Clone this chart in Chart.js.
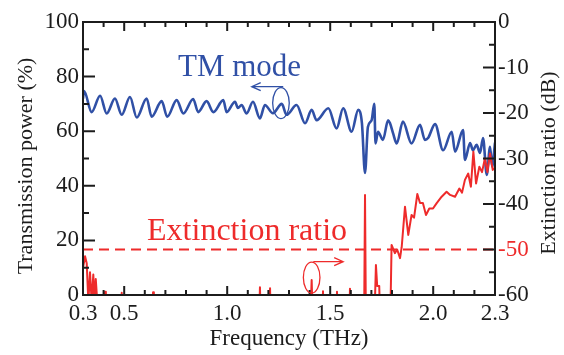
<!DOCTYPE html>
<html>
<head>
<meta charset="utf-8">
<script src="https://cdn.jsdelivr.net/npm/chart.js@4.4.0/dist/chart.umd.min.js"></script>
<style>
html, body { margin: 0; padding: 0; background: #fff; }
#wrap { width: 564px; height: 355px; }
</style>
</head>
<body>
<div id="wrap"><canvas id="chart"></canvas></div>
<script>
// TM mode transmission (%)
const tmFreq = [0.300, 0.305, 0.342, 0.383, 0.415, 0.455, 0.488, 0.528, 0.561, 0.609, 0.633, 0.682, 0.709, 0.755, 0.787,
    0.835, 0.859, 0.900, 0.933, 0.981, 0.997, 1.038, 1.052, 1.070, 1.094, 1.125, 1.159, 1.183, 1.222, 1.265, 1.288,
    1.337, 1.378, 1.410, 1.434, 1.491, 1.531, 1.563, 1.604, 1.636, 1.654, 1.669, 1.683, 1.701, 1.714, 1.720, 1.732,
    1.756, 1.781, 1.790, 1.805, 1.823, 1.853, 1.895, 1.936, 1.960, 1.975, 2.009, 2.048, 2.090, 2.106, 2.145, 2.154,
    2.179, 2.193, 2.211, 2.227, 2.242, 2.260, 2.276, 2.286, 2.300];
const tmPower = [72, 74.7, 67, 73, 66.5, 72, 66, 72.5, 65, 72, 65.3, 71, 65.3, 71.4, 66.5,
    71.8, 67, 71, 67, 71.4, 67, 70.8, 68.5, 69.6, 66.5, 70.8, 64.7, 69.6, 66.6, 70, 66,
    69.6, 62.9, 67.8, 64, 68.4, 61, 68.4, 59.8, 67.8, 63, 44.7, 61.5, 64, 70, 55.5, 59.8,
    56.8, 64, 63, 59.3, 55.5, 63.5, 55.5, 62.3, 56.8, 57.5, 62.6, 53, 59.8, 52.5, 60.4, 49.5,
    55.7, 53, 55, 52, 57.5, 44, 54.3, 47, 55.7];

// Extinction ratio (dB); values under -60 fall below the axis
const erFreq = [0.300, 0.310, 0.318, 0.326, 0.334, 0.342, 0.350, 0.356, 0.362, 0.370, 0.380,
    0.403, 0.407, 0.411, 0.484, 0.488, 0.492, 0.636, 0.640, 0.644,
    1.152, 1.159, 1.166, 1.202, 1.208, 1.214, 1.400, 1.410, 1.418, 1.460, 1.465, 1.470,
    1.528, 1.533, 1.538, 1.590, 1.596, 1.602, 1.664, 1.669, 1.674, 1.712, 1.722, 1.728, 1.738, 1.745,
    1.790, 1.798, 1.814, 1.825, 1.839, 1.847, 1.863, 1.879, 1.895, 1.907, 1.923, 1.936, 1.950, 1.965,
    1.981, 1.999, 2.017, 2.041, 2.065, 2.082, 2.106, 2.127, 2.140, 2.154, 2.170, 2.183, 2.195, 2.208,
    2.224, 2.237, 2.251, 2.263, 2.276, 2.289, 2.300];
const erDb = [-54, -51.5, -53, -61.5, -55, -61.5, -55.5, -61.5, -56.5, -62, -70,
    -70, -59.3, -70, -70, -59.5, -70, -70, -59.4, -70,
    -70, -58.3, -70, -70, -58.5, -70, -70, -56.7, -70, -70, -59.2, -70,
    -70, -59.3, -70, -70, -58.6, -70, -70, -38, -70, -70, -53.4, -58, -58, -70,
    -70, -49, -50.8, -50, -51.9, -49.5, -40.6, -46.8, -42.4, -43, -37.8, -39.8, -39.8, -42.4,
    -41, -41, -39.8, -38.4, -37.3, -38, -38.4, -36.6, -37.5, -34.7, -33.3, -36.2, -28.5, -35.5,
    -31.8, -33, -30, -33, -28.9, -32.5, -32];

const thresholdDb = -50;
const xTickValues = [0.3, 0.5, 1.0, 1.5, 2.0, 2.3];

const blue = "#3050a6";
const red = "#ee2b2b";
const ink = "#1c1c1c";
const serif = "'Liberation Serif', 'Times New Roman', serif";

const toPoints = (xs, ys) => xs.map((f, i) => ({ x: f, y: ys[i] }));

const frameTicks = {
    id: "frameTicks",
    afterDatasetsDraw(chart) {
        const { ctx, chartArea: a, scales } = chart;
        const { x, y, y1 } = scales;
        ctx.save();
        ctx.strokeStyle = ink;
        ctx.lineWidth = 2;
        ctx.strokeRect(a.left, a.top, a.right - a.left, a.bottom - a.top);
        ctx.beginPath();
        for (let i = 3; i <= 23; i++) {
            const px = x.getPixelForValue(i / 10);
            const len = i % 5 === 0 ? 9 : 5;
            ctx.moveTo(px, a.bottom);
            ctx.lineTo(px, a.bottom - len);
            ctx.moveTo(px, a.top);
            ctx.lineTo(px, a.top + len);
        }
        for (let v = 0; v <= 100; v += 10) {
            const py = y.getPixelForValue(v);
            ctx.moveTo(a.left, py);
            ctx.lineTo(a.left + (v % 20 === 0 ? 12 : 6), py);
        }
        for (let v = -60; v <= 0; v += 5) {
            const py = y1.getPixelForValue(v);
            ctx.moveTo(a.right, py);
            ctx.lineTo(a.right - (v % 10 === 0 ? 12 : 6), py);
        }
        ctx.stroke();
        ctx.restore();
    },
};

const notes = {
    id: "notes",
    afterDraw(chart) {
        const { ctx, scales } = chart;
        const { x, y } = scales;
        ctx.save();

        // labels inside the plot
        ctx.textBaseline = "alphabetic";
        ctx.textAlign = "left";
        ctx.font = `31px ${serif}`;
        ctx.fillStyle = blue;
        ctx.fillText("TM mode", x.getPixelForValue(0.761), y.getPixelForValue(80.2));
        ctx.fillStyle = red;
        ctx.font = `32px ${serif}`;
        ctx.fillText("Extinction ratio", x.getPixelForValue(0.611), y.getPixelForValue(20.1));

        // circle + arrow markers
        const marker = (cx, cy, ax0, ax1, ay, color) => {
            const px = x.getPixelForValue(cx);
            const py = y.getPixelForValue(cy);
            const x0 = x.getPixelForValue(ax0);
            const x1 = x.getPixelForValue(ax1);
            const yy = y.getPixelForValue(ay);
            ctx.strokeStyle = color;
            ctx.lineWidth = 1.3;
            ctx.beginPath();
            ctx.ellipse(px, py, 8.3, 15.5, 0, 0, Math.PI * 2);
            ctx.stroke();
            ctx.beginPath();
            ctx.moveTo(x0, yy);
            ctx.lineTo(x1, yy);
            const dir = x1 > x0 ? -1 : 1;
            ctx.moveTo(x1 + dir * 9, yy - 4);
            ctx.lineTo(x1, yy);
            ctx.lineTo(x1 + dir * 9, yy + 4);
            ctx.stroke();
        };
        marker(1.261, 70.3, 1.272, 1.119, 76.3, blue);
        marker(1.410, 6.4, 1.418, 1.563, 12.2, red);

        // axis titles, both reading bottom to top
        ctx.fillStyle = ink;
        ctx.font = `22px ${serif}`;
        ctx.textAlign = "center";
        ctx.textBaseline = "middle";
        const vTitle = (text, cx, cy) => {
            ctx.save();
            ctx.translate(cx, cy);
            ctx.rotate(-Math.PI / 2);
            ctx.fillText(text, 0, 0);
            ctx.restore();
        };
        vTitle("Transmission power (%)", 26, 166);
        vTitle("Extinction ratio (dB)", 549, 163);
        ctx.restore();
    },
};

new Chart(document.getElementById("chart"), {
    type: "line",
    data: {
        datasets: [
            {
                label: "Extinction ratio",
                data: toPoints(erFreq, erDb),
                yAxisID: "y1",
                borderColor: red,
                borderWidth: 2,
                borderJoinStyle: "round",
                pointRadius: 0,
                tension: 0,
            },
            {
                label: "threshold",
                data: [{ x: 0.3, y: thresholdDb }, { x: 2.3, y: thresholdDb }],
                yAxisID: "y1",
                borderColor: red,
                borderWidth: 2,
                borderDash: [10, 6],
                pointRadius: 0,
            },
            {
                label: "TM mode",
                data: toPoints(tmFreq, tmPower),
                yAxisID: "y",
                borderColor: blue,
                borderWidth: 2.6,
                borderJoinStyle: "round",
                borderCapStyle: "round",
                cubicInterpolationMode: "monotone",
                pointRadius: 0,
            },
        ],
    },
    options: {
        responsive: true,
        maintainAspectRatio: false,
        animation: false,
        layout: { padding: { top: 22, left: 0, right: 0, bottom: 0 } },
        plugins: { legend: { display: false }, tooltip: { enabled: false } },
        scales: {
            x: {
                type: "linear",
                min: 0.3,
                max: 2.3,
                afterBuildTicks: (s) => { s.ticks = xTickValues.map((v) => ({ value: v })); },
                afterFit: (s) => { s.height = 60; },
                grid: { display: false, drawTicks: false },
                border: { display: false },
                ticks: {
                    autoSkip: false,
                    maxRotation: 0,
                    padding: 5,
                    color: ink,
                    font: { family: serif, size: 23 },
                    callback: (v) => Number(v).toFixed(1),
                },
                title: {
                    display: true,
                    text: "Frequency (THz)",
                    color: ink,
                    font: { family: serif, size: 23 },
                    padding: { top: 0, bottom: 2 },
                },
            },
            y: {
                position: "left",
                min: 0,
                max: 100,
                afterFit: (s) => { s.width = 83; },
                grid: { display: false, drawTicks: false },
                border: { display: false },
                ticks: {
                    stepSize: 20,
                    padding: 4,
                    color: ink,
                    font: { family: serif, size: 23 },
                },
            },
            y1: {
                position: "right",
                min: -60,
                max: 0,
                afterFit: (s) => { s.width = 69; },
                grid: { display: false, drawTicks: false },
                border: { display: false },
                ticks: {
                    stepSize: 10,
                    padding: 3,
                    color: (c) => (c.tick && c.tick.value === thresholdDb ? red : ink),
                    font: { family: serif, size: 23 },
                },
            },
        },
    },
    plugins: [frameTicks, notes],
});
</script>
</body>
</html>
